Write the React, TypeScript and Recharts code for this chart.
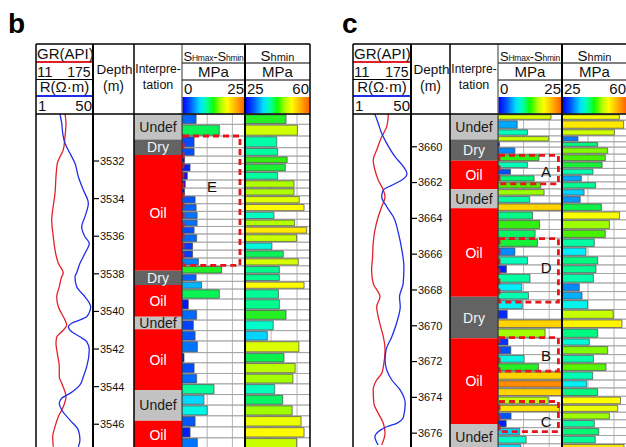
import React from 'react';
import {
  ComposedChart,
  Line,
  XAxis,
  YAxis,
  ReferenceArea,
  ReferenceDot,
  CartesianGrid,
} from 'recharts';

const FONT = '"Liberation Sans", Arial, Helvetica, sans-serif';
const RED = '#e3202a';
const BLUE = '#1f2fe8';
const BOX_RED = '#e8141c';
const DATA_TOP = 114;
const DATA_H = 336;

// ---------- well b ----------
const B_DOMAIN: [number, number] = [3529.5, 3547.37];
const B_TICKS = [3532, 3534, 3536, 3538, 3540, 3542, 3544, 3546];
const B_ZONE_TOP = [3529.5, 3530.85, 3531.68, 3537.84, 3538.6, 3540.28, 3540.95, 3544.18, 3545.81];
const B_ZONE = ['Undef', 'Dry', 'Oil', 'Dry', 'Oil', 'Undef', 'Oil', 'Undef', 'Oil'];
const B_ROW_TOP = [
  3529.5, 3530.05, 3530.67, 3531.29, 3531.74, 3532.13, 3532.57, 3533.01, 3533.44, 3533.85,
  3534.27, 3534.68, 3535.1, 3535.48, 3535.88, 3536.32, 3536.74, 3537.16, 3537.57, 3538.0,
  3538.4, 3538.81, 3539.34, 3539.91, 3540.46, 3541.02, 3541.57, 3542.19, 3542.73, 3543.3,
  3543.85, 3544.42, 3544.98, 3545.55, 3546.14, 3546.72,
];
const B_SH = [
  5.6, 14.8, 4.8, 4.8, 1.0, 3.2, 2.1, 1.3, 1.0, 5.2, 5.6, 6.0, 6.0, 4.8, 5.8, 4.2, 4.2, 6.5,
  15.7, 5.6, 7.8, 14.8, 2.5, 5.8, 4.5, 5.2, 6.1, 0.8, 4.8, 5.8, 12.7, 8.7, 10.0, 5.2, 3.2, 6.1,
];
const B_SHMIN = [
  47.1, 53.2, 42.1, 42.6, 47.7, 46.7, 42.6, 51.4, 51.4, 54.2, 56.8, 40.6, 51.7, 58.2, 52.8,
  39.5, 45.6, 53.7, 43.5, 43.5, 56.8, 43.0, 43.5, 47.1, 40.2, 37.0, 54.0, 46.0, 52.0, 50.8,
  41.0, 45.3, 50.4, 55.2, 56.8, 52.8,
];
const B_GR_DEPTH = [
  3529.5, 3529.99, 3530.71, 3531.41, 3531.77, 3532.12, 3532.84, 3533.72, 3534.61, 3535.14,
  3536.03, 3536.73, 3537.44, 3537.97, 3538.15, 3538.69, 3539.22, 3539.75, 3540.46, 3540.72,
  3541.08, 3541.35, 3541.7, 3542.23, 3542.94, 3543.47, 3543.82, 3544.54, 3545.07, 3545.6,
  3546.13, 3546.66, 3547.2,
];
const B_GR = [
  94.4, 97.3, 94.4, 89.5, 80.1, 72.3, 68.5, 65.7, 59.0, 56.2, 60.8, 65.7, 75.2, 89.5, 85.0,
  78.0, 70.6, 75.2, 94.4, 99.3, 85.0, 70.6, 68.5, 72.3, 78.0, 78.0, 85.0, 97.3, 89.5, 75.2,
  65.7, 59.0, 60.8,
];
const B_R_DEPTH = [
  3529.5, 3529.99, 3530.53, 3531.06, 3531.59, 3532.12, 3532.84, 3533.54, 3534.25, 3534.96,
  3535.49, 3536.03, 3536.38, 3536.91, 3537.44, 3537.97, 3538.15, 3538.69, 3539.22, 3539.75,
  3540.28, 3540.63, 3540.81, 3541.08, 3541.35, 3541.61, 3542.05, 3542.94, 3543.47, 3543.91,
  3544.36, 3544.62, 3544.89, 3545.24, 3545.78, 3546.31, 3546.84, 3547.2,
];
const B_R = [
  21.6, 23.1, 24.0, 25.9, 30.2, 34.5, 37.4, 41.7, 46.0, 43.1, 40.3, 43.1, 46.8, 43.1, 38.8,
  35.8, 34.5, 36.0, 43.1, 48.0, 44.6, 31.7, 28.8, 31.7, 38.8, 44.6, 46.8, 44.6, 41.7, 38.8,
  30.2, 23.1, 21.0, 23.1, 30.2, 37.4, 38.8, 37.4,
];
const B_BOX = ['E'];
const B_BOX_TOP = [3530.67];
const B_BOX_BASE = [3537.55];
const B_BOX_MARK = [3533.38];
const B_BOX_MARK_X = [11.9];

// ---------- well c ----------
const C_DOMAIN: [number, number] = [3658.17, 3676.94];
const C_TICKS = [3660, 3662, 3664, 3666, 3668, 3670, 3672, 3674, 3676];
const C_ZONE_TOP = [3658.17, 3659.59, 3660.78, 3662.38, 3663.44, 3668.38, 3670.7, 3675.49];
const C_ZONE = ['Undef', 'Dry', 'Oil', 'Undef', 'Oil', 'Dry', 'Oil', 'Undef'];
const C_ROW_TOP = [
  3658.17, 3658.51, 3659.01, 3659.39, 3659.72, 3660.02, 3660.41, 3660.82, 3661.21, 3661.58,
  3661.96, 3662.35, 3662.74, 3663.15, 3663.6, 3664.08, 3664.62, 3665.11, 3665.61, 3666.11,
  3666.6, 3667.08, 3667.61, 3668.09, 3668.55, 3669.09, 3669.63, 3670.14, 3670.69, 3671.12,
  3671.61, 3672.08, 3672.54, 3673.03, 3673.47, 3673.94, 3674.4, 3674.83, 3675.25, 3675.69,
  3676.13, 3676.59,
];
const C_SH = [
  20.7, 7.5, 11.5, 19.8, 0.6, 6.6, 16.0, 11.5, 4.9, 14.1, 16.7, 18.0, 12.4, 25, 13.5, 16.2,
  14.5, 15.4, 6.6, 11.5, 3.3, 12.5, 9.3, 11.9, 9.5, 3.6, 25, 18.4, 3.9, 5.0, 10.2, 15.8, 25,
  28, 25, 19.6, 24.0, 5.1, 3.2, 8.5, 11.0, 8.9,
];
const C_SHMIN = [
  55.9, 58.2, 53.2, 33.6, 44.2, 49.6, 48.3, 46.6, 41.7, 35.4, 43.1, 36.9, 34.8, 46.2, 56.0,
  50.5, 48.3, 42.4, 37.9, 44.2, 43.3, 41.9, 34.3, 35.8, 38.8, 52.6, 57.3, 44.2, 39.7, 49.6,
  41.9, 48.7, 41.5, 38.3, 44.2, 56.5, 55.0, 50.5, 42.4, 44.8, 42.9, 58.4,
];
const C_GR_DEPTH = [
  3658.17, 3658.88, 3659.44, 3660.18, 3660.74, 3661.3, 3661.86, 3662.42, 3662.79, 3663.35,
  3663.91, 3664.65, 3665.4, 3666.15, 3666.89, 3667.63, 3668.38, 3668.94, 3669.5, 3670.06,
  3670.61, 3671.36, 3672.29, 3672.66, 3673.03, 3673.59, 3674.34, 3674.89, 3675.45, 3676.01,
  3676.66,
];
const C_GR = [
  111.0, 106.4, 92.1, 77.9, 68.1, 73.0, 82.4, 96.7, 101.6, 92.1, 82.4, 73.0, 68.1, 66.4, 63.6,
  68.1, 87.3, 77.9, 82.4, 89.3, 96.7, 101.6, 96.7, 92.1, 77.9, 68.1, 70.1, 82.4, 96.7, 101.6,
  92.1,
];
const C_R_DEPTH = [
  3658.17, 3658.69, 3659.25, 3659.81, 3660.56, 3661.12, 3661.49, 3661.86, 3662.15, 3662.42,
  3662.79, 3663.35, 3663.91, 3664.84, 3665.77, 3666.7, 3667.63, 3668.38, 3668.94, 3669.68,
  3670.61, 3671.36, 3671.92, 3672.47, 3673.03, 3673.59, 3674.34, 3675.08, 3675.45, 3675.64,
  3675.92, 3676.2, 3676.66,
];
const C_R = [
  19.5, 22.3, 25.2, 29.5, 36.6, 43.7, 46.6, 42.3, 33.8, 26.6, 25.2, 29.5, 35.1, 39.4, 42.3,
  44.0, 43.4, 40.3, 40.9, 38.6, 33.8, 28.9, 28.1, 29.5, 33.8, 40.9, 45.1, 43.7, 38.0, 29.5,
  22.3, 19.5, 22.3,
];
const C_BOX = ['A', 'D', 'B', 'C'];
const C_BOX_TOP = [3660.48, 3665.13, 3670.66, 3674.23];
const C_BOX_BASE = [3662.07, 3668.68, 3672.53, 3675.91];
const C_BOX_MARK = [3661.41, 3666.76, 3671.69, 3675.35];
const C_BOX_MARK_X = [18.8, 18.8, 18.8, 18.8];

const GR_RANGE: [number, number] = [11, 175];
const R_RANGE: [number, number] = [1, 50];
const SH_RANGE: [number, number] = [0, 25];
const SHMIN_RANGE: [number, number] = [25, 60];
const SH_GRID = [5, 10, 15, 20];
const SHMIN_GRID = [32, 39, 46, 53];

const ZONE_FILL: Record<string, string> = { Undef: '#c2c2c2', Dry: '#636363', Oil: '#ff0000' };
const ZONE_TEXT: Record<string, string> = { Undef: '#1a1a1a', Dry: '#f4f4f4', Oil: '#ffffff' };

const CMAP: [number, string][] = [
  [0.0, '#0000ff'], [0.12, '#0018ff'], [0.22, '#0060ff'], [0.3, '#00a8ff'],
  [0.37, '#00f0ff'], [0.44, '#00ffc8'], [0.5, '#00ffa0'], [0.56, '#00f878'],
  [0.61, '#10f040'], [0.66, '#40f000'], [0.72, '#99ff00'], [0.8, '#ccff00'],
  [0.9, '#ffff00'], [1.0, '#ffd200'], [1.12, '#ff8c00'],
];

function rgb(h: string) {
  return [1, 3, 5].map((i) => parseInt(h.slice(i, i + 2), 16));
}

function colorAt(t: number) {
  const tt = Math.max(0, Math.min(1.12, t));
  for (let i = 1; i < CMAP.length; i++) {
    const [t1, c1] = CMAP[i];
    if (tt <= t1) {
      const [t0, c0] = CMAP[i - 1];
      const f = (tt - t0) / (t1 - t0);
      const a = rgb(c0);
      const b = rgb(c1);
      return `rgb(${a.map((v, k) => Math.round(v + (b[k] - v) * f)).join(',')})`;
    }
  }
  return CMAP[CMAP.length - 1][1];
}

type Panel = {
  label: string;
  labelX: number;
  cols: number[];
  domain: [number, number];
  ticks: number[];
  zoneTop: number[];
  zone: string[];
  rowTop: number[];
  sh: number[];
  shmin: number[];
  grDepth: number[];
  gr: number[];
  rDepth: number[];
  r: number[];
  box: string[];
  boxTop: number[];
  boxBase: number[];
  boxMark: number[];
  boxMarkX: number[];
  boxRight: number;
};

const NO_MARGIN = { top: 0, right: 0, bottom: 0, left: 0 };

// in a vertical layout the depth axis already runs top -> bottom, so no `reversed`
function CurveTrack({ p }: { p: Panel }) {
  const data = [
    ...p.grDepth.map((d, i) => ({ depth: d, gr: p.gr[i] })),
    ...p.rDepth.map((d, i) => ({ depth: d, r: p.r[i] })),
  ].sort((a, b) => a.depth - b.depth);
  const width = p.cols[2] - p.cols[0];
  const axisW = p.cols[2] - p.cols[1];
  return (
    <div style={{ position: 'absolute', left: p.cols[0], top: DATA_TOP }}>
      <ComposedChart width={width} height={DATA_H} layout="vertical" data={data} margin={NO_MARGIN}>
        <XAxis xAxisId="gr" type="number" domain={GR_RANGE} hide allowDataOverflow />
        <XAxis xAxisId="r" type="number" domain={R_RANGE} hide allowDataOverflow />
        <YAxis
          type="number"
          dataKey="depth"
          domain={p.domain}
          allowDataOverflow
          orientation="right"
          width={axisW}
          ticks={p.ticks}
          interval={0}
          tickSize={6}
          tickMargin={1}
          axisLine={{ stroke: '#000', strokeWidth: 2 }}
          tickLine={{ stroke: '#000', strokeWidth: 1.2 }}
          tick={{ fontSize: 11, fill: '#111' }}
        />
        <Line xAxisId="gr" dataKey="gr" type="monotone" stroke={RED} strokeWidth={1.3}
          dot={false} connectNulls isAnimationActive={false} />
        <Line xAxisId="r" dataKey="r" type="monotone" stroke={BLUE} strokeWidth={1.3}
          dot={false} connectNulls isAnimationActive={false} />
      </ComposedChart>
    </div>
  );
}

function ZoneTrack({ p }: { p: Panel }) {
  const width = p.cols[3] - p.cols[2];
  const data = p.zoneTop.map((d) => ({ depth: d }));
  return (
    <div style={{ position: 'absolute', left: p.cols[2], top: DATA_TOP }}>
      <ComposedChart width={width} height={DATA_H} layout="vertical" data={data} margin={NO_MARGIN}>
        <XAxis type="number" domain={[0, 1]} hide allowDataOverflow />
        <YAxis type="number" dataKey="depth" domain={p.domain} hide allowDataOverflow />
        {p.zone.map((z, i) => (
          <ReferenceArea
            key={i}
            x1={0}
            x2={1}
            y1={p.zoneTop[i]}
            y2={i + 1 < p.zone.length ? p.zoneTop[i + 1] : p.domain[1]}
            fill={ZONE_FILL[z]}
            fillOpacity={1}
            stroke="none"
            label={{ value: z, position: 'center', fill: ZONE_TEXT[z], fontSize: 14 }}
          />
        ))}
      </ComposedChart>
    </div>
  );
}

function BarTrack({
  p, left, width, range, grid, values, withBoxes,
}: {
  p: Panel; left: number; width: number; range: [number, number]; grid: number[];
  values: number[]; withBoxes: boolean;
}) {
  const data = p.rowTop.map((d) => ({ depth: d }));
  const inset = (0.8 * (p.domain[1] - p.domain[0])) / DATA_H;
  const bottomOf = (i: number) => (i + 1 < p.rowTop.length ? p.rowTop[i + 1] : p.domain[1]);
  return (
    <div style={{ position: 'absolute', left, top: DATA_TOP }}>
      <ComposedChart width={width} height={DATA_H} layout="vertical" data={data} margin={NO_MARGIN}>
        <CartesianGrid horizontal={false} verticalValues={grid} stroke="#b4b4b4" />
        <XAxis type="number" domain={range} ticks={[range[0], ...grid, range[1]]} hide allowDataOverflow />
        <YAxis type="number" dataKey="depth" domain={p.domain} hide allowDataOverflow />
        {p.rowTop.map((d, i) => (
          <ReferenceArea key={`row${i}`} x1={range[0]} x2={range[1]} y1={d} y2={bottomOf(i)}
            fill="none" stroke="#a2a2a2" strokeWidth={0.8} />
        ))}
        {values.map((v, i) => (
          <ReferenceArea
            key={`bar${i}`}
            x1={range[0]}
            x2={Math.min(v, range[1])}
            y1={p.rowTop[i] + inset}
            y2={bottomOf(i) - inset}
            fill={colorAt((v - range[0]) / (range[1] - range[0]))}
            fillOpacity={1}
            stroke="#4a4a4a"
            strokeWidth={0.7}
          />
        ))}
        {withBoxes && p.box.map((n, i) => (
          <ReferenceArea key={`box${i}`} x1={0.4} x2={p.boxRight} y1={p.boxTop[i]} y2={p.boxBase[i]}
            fill="none" stroke={BOX_RED} strokeWidth={2.8} strokeDasharray="6 4" />
        ))}
        {withBoxes && p.box.map((n, i) => (
          <ReferenceDot key={`mark${i}`} x={p.boxMarkX[i]} y={p.boxMark[i]} r={0}
            fill="none" stroke="none"
            label={{ value: n, position: 'center', fill: '#111', fontSize: 15 }} />
        ))}
      </ComposedChart>
    </div>
  );
}

function Frame({ p }: { p: Panel }) {
  const [a, b, c, d, e, f] = p.cols;
  const mid = (u: number, v: number) => (u + v) / 2;
  const gid = `cbar-${p.label}`;
  const colLines: [number, number, string][] = [
    [a, 1.5, '#000'], [b, 2, '#000'], [c, 1.5, '#000'], [d, 1, '#333'], [e, 2, '#000'], [f, 1.5, '#000'],
  ];
  return (
    <svg width={626} height={447} style={{ position: 'absolute', left: 0, top: 0 }}
      fontFamily={FONT} fill="#111">
      <defs>
        <linearGradient id={gid} x1="0" x2="1" y1="0" y2="0">
          <stop offset="0%" stopColor="#0000ff" />
          <stop offset="12%" stopColor="#0050ff" />
          <stop offset="28%" stopColor="#00e0ff" />
          <stop offset="38%" stopColor="#00ffb0" />
          <stop offset="50%" stopColor="#10ff00" />
          <stop offset="62%" stopColor="#b0ff00" />
          <stop offset="72%" stopColor="#ffff00" />
          <stop offset="86%" stopColor="#ffb000" />
          <stop offset="100%" stopColor="#ff6000" />
        </linearGradient>
      </defs>
      <text x={p.labelX} y={33} fontSize={28} fontWeight="bold" fill="#000">{p.label}</text>

      <rect x={d + 0.5} y={97} width={e - d - 1} height={16.5} fill={`url(#${gid})`} />
      <rect x={e + 0.5} y={97} width={f - e - 1} height={16.5} fill={`url(#${gid})`} />

      <line x1={a} x2={f} y1={44} y2={44} stroke="#000" strokeWidth={1.5} />
      <line x1={a} x2={f} y1={114} y2={114} stroke="#000" strokeWidth={1.5} />
      <line x1={a} x2={b} y1={62} y2={62} stroke={RED} strokeWidth={2} />
      <line x1={a} x2={b} y1={79.5} y2={79.5} stroke="#000" strokeWidth={1} />
      <line x1={a} x2={b} y1={96} y2={96} stroke={BLUE} strokeWidth={2} />
      <line x1={d} x2={f} y1={63} y2={63} stroke="#000" strokeWidth={1} />
      <line x1={d} x2={f} y1={80} y2={80} stroke="#000" strokeWidth={1} />
      {colLines.map(([x, w, s], i) => (
        <line key={i} x1={x} x2={x} y1={44} y2={460} stroke={s} strokeWidth={w} />
      ))}

      <text x={a + 1} y={58.5} fontSize={15}>GR(API)</text>
      <text x={a + 1} y={76.5} fontSize={15}>11</text>
      <text x={b - 2.5} y={76.5} fontSize={14} textAnchor="end">175</text>
      <text x={mid(a, b)} y={92} fontSize={15} textAnchor="middle">R(Ω·m)</text>
      <text x={a + 2} y={111} fontSize={15}>1</text>
      <text x={b - 1} y={111} fontSize={15} textAnchor="end">50</text>

      <text x={mid(b, c) + 1} y={74} fontSize={13.5} textAnchor="middle">Depth</text>
      <text x={mid(b, c)} y={90.5} fontSize={14} textAnchor="middle">(m)</text>

      <text x={mid(c, d)} y={73} fontSize={12} textAnchor="middle">Interpre-</text>
      <text x={mid(c, d)} y={88.5} fontSize={12.5} textAnchor="middle">tation</text>

      <text x={mid(d, e)} y={60.5} textAnchor="middle" letterSpacing={-0.2}>
        <tspan fontSize={13}>S</tspan>
        <tspan fontSize={8.5}>Hmax</tspan>
        <tspan fontSize={13}>-S</tspan>
        <tspan fontSize={8.5}>hmin</tspan>
      </text>
      <text x={mid(d, e)} y={76.5} fontSize={15} textAnchor="middle">MPa</text>
      <text x={d + 2} y={93.5} fontSize={15}>0</text>
      <text x={e - 1} y={93.5} fontSize={15} textAnchor="end">25</text>

      <text x={mid(e, f)} y={60.5} textAnchor="middle">
        <tspan fontSize={15}>S</tspan>
        <tspan fontSize={11}>hmin</tspan>
      </text>
      <text x={mid(e, f)} y={76.5} fontSize={15} textAnchor="middle">MPa</text>
      <text x={e + 2} y={93.5} fontSize={15}>25</text>
      <text x={f - 1} y={93.5} fontSize={15} textAnchor="end">60</text>
    </svg>
  );
}

function Well({ p }: { p: Panel }) {
  const [, , , d, e, f] = p.cols;
  return (
    <>
      <CurveTrack p={p} />
      <ZoneTrack p={p} />
      <BarTrack p={p} left={d} width={e - d} range={SH_RANGE} grid={SH_GRID} values={p.sh} withBoxes />
      <BarTrack p={p} left={e} width={f - e} range={SHMIN_RANGE} grid={SHMIN_GRID} values={p.shmin} withBoxes={false} />
      <Frame p={p} />
    </>
  );
}

const WELL_B: Panel = {
  label: 'b', labelX: 8, cols: [36, 93, 134, 182, 245, 310],
  domain: B_DOMAIN, ticks: B_TICKS, zoneTop: B_ZONE_TOP, zone: B_ZONE,
  rowTop: B_ROW_TOP, sh: B_SH, shmin: B_SHMIN,
  grDepth: B_GR_DEPTH, gr: B_GR, rDepth: B_R_DEPTH, r: B_R,
  box: B_BOX, boxTop: B_BOX_TOP, boxBase: B_BOX_BASE, boxMark: B_BOX_MARK, boxMarkX: B_BOX_MARK_X,
  boxRight: 23,
};

const WELL_C: Panel = {
  label: 'c', labelX: 342, cols: [353, 411, 450, 498, 562, 627],
  domain: C_DOMAIN, ticks: C_TICKS, zoneTop: C_ZONE_TOP, zone: C_ZONE,
  rowTop: C_ROW_TOP, sh: C_SH, shmin: C_SHMIN,
  grDepth: C_GR_DEPTH, gr: C_GR, rDepth: C_R_DEPTH, r: C_R,
  box: C_BOX, boxTop: C_BOX_TOP, boxBase: C_BOX_BASE, boxMark: C_BOX_MARK, boxMarkX: C_BOX_MARK_X,
  boxRight: 23.6,
};

export default function App() {
  return (
    <div
      style={{
        position: 'absolute', left: 0, top: 0, width: 626, height: 447,
        overflow: 'hidden', background: '#fff', fontFamily: FONT,
      }}
    >
      <Well p={WELL_B} />
      <Well p={WELL_C} />
    </div>
  );
}
